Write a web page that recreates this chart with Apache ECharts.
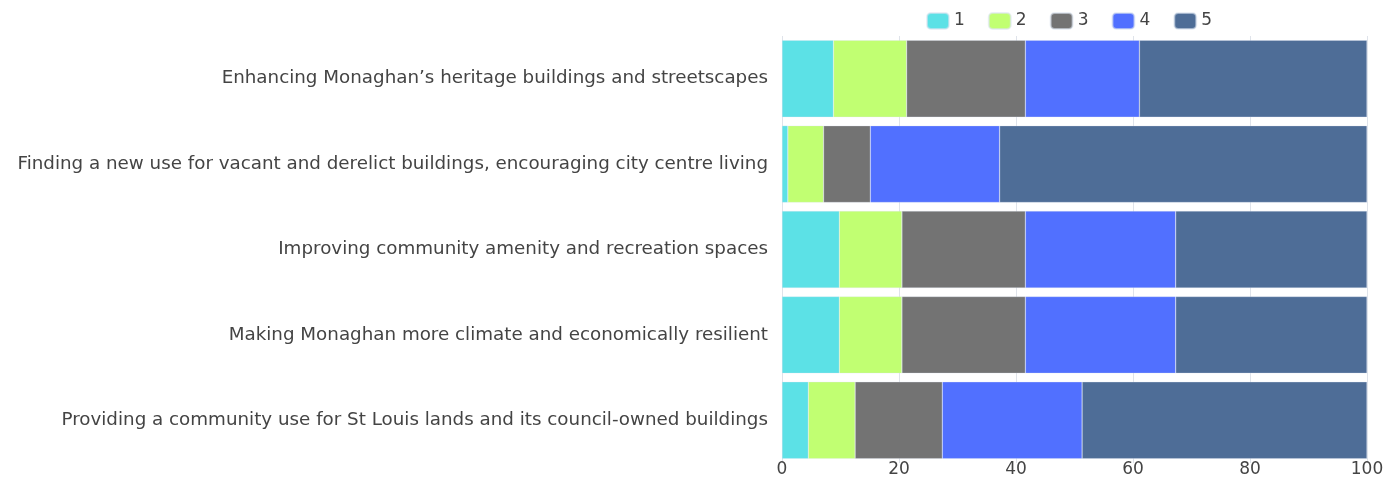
<!DOCTYPE html>
<html>
<head>
<meta charset="utf-8">
<script src="https://cdn.jsdelivr.net/npm/echarts@6/dist/echarts.min.js"></script>
<style>html,body{margin:0;padding:0;background:#fff;}#c{width:1387px;height:482px;}</style>
</head>
<body>
<div id="c"></div>
<script>
const categories = [
  "Enhancing Monaghan\u2019s heritage buildings and streetscapes",
  "Finding a new use for vacant and derelict buildings, encouraging city centre living",
  "Improving community amenity and recreation spaces",
  "Making Monaghan more climate and economically resilient",
  "Providing a community use for St Louis lands and its council-owned buildings"
];
const seriesNames = ["1", "2", "3", "4", "5"];
const s1 = [8.8, 1.0, 9.8, 9.8, 4.5];
const s2 = [12.5, 6.1, 10.7, 10.7, 8.0];
const s3 = [20.3, 8.0, 21.1, 21.1, 14.9];
const s4 = [19.5, 22.1, 25.7, 25.7, 23.9];
const s5 = [38.9, 62.8, 32.7, 32.7, 48.7];
const xTicks = [0, 20, 40, 60, 80, 100];
const colors = ["#5CE1E6", "#C1FF72", "#737373", "#5170FF", "#4E6D97"];

const values = [s1, s2, s3, s4, s5];
const FONT = 'DejaVu Sans';
const chart = echarts.init(document.getElementById('c'), null, {renderer: 'canvas'});
chart.setOption({
  animation: false,
  color: colors,
  legend: {
    top: 7,
    left: 921,
    itemWidth: 22,
    itemHeight: 16,
    itemGap: 23,
    textStyle: {fontFamily: FONT, fontSize: 17, color: '#444'},
    data: seriesNames
  },
  grid: {left: 782, right: 20, top: 36, bottom: 19, containLabel: false},
  xAxis: {
    type: 'value',
    min: xTicks[0],
    max: xTicks[xTicks.length - 1],
    interval: xTicks[1] - xTicks[0],
    axisLine: {show: false},
    axisTick: {show: false},
    axisLabel: {fontFamily: FONT, fontSize: 17, color: '#444', margin: -2},
    splitLine: {show: true, lineStyle: {color: '#dfe3ea', width: 1}}
  },
  yAxis: {
    type: 'category',
    inverse: true,
    data: categories,
    axisLine: {show: false},
    axisTick: {show: false},
    axisLabel: {fontFamily: FONT, fontSize: 18.3, color: '#444', margin: 14}
  },
  series: seriesNames.map((n, i) => ({
    name: n,
    type: 'bar',
    stack: 'total',
    barCategoryGap: '10%',
    itemStyle: {borderColor: 'rgba(220,228,240,0.6)', borderWidth: 0.5},
    data: values[i]
  }))
});
</script>
</body>
</html>
